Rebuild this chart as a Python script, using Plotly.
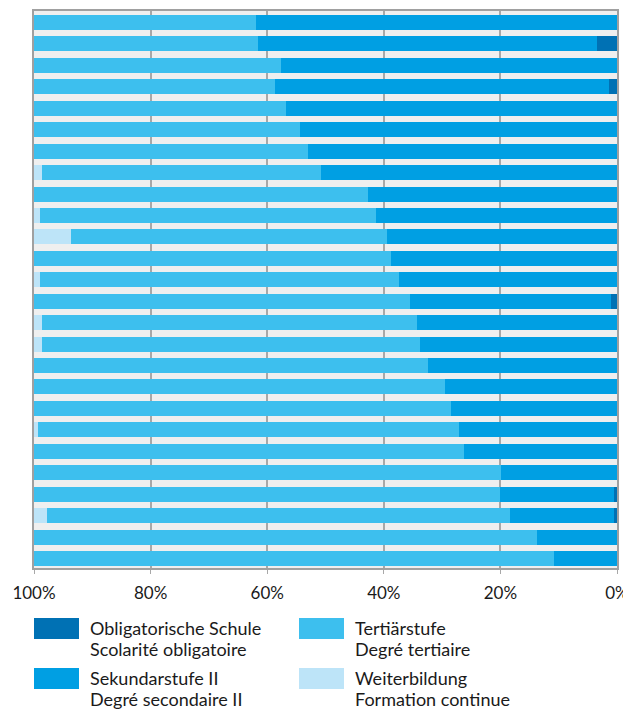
import plotly.graph_objects as go

# ---- data (percent shares per bar, top to bottom) ----
bars = list(range(1, 27))
oblig = [0, 3.4, 0, 1.4, 0, 0, 0, 0, 0, 0, 0, 0, 0, 1.0, 0, 0, 0, 0, 0, 0, 0, 0, 0.5, 0.5, 0, 0]
sek = [61.9, 58.1, 57.6, 57.2, 56.7, 54.3, 53.0, 50.7, 42.7, 41.3, 39.4, 38.7, 37.4,
       34.5, 34.3, 33.8, 32.4, 29.5, 28.4, 27.1, 26.2, 19.9, 19.6, 17.8, 13.7, 10.8]
tert = [38.1, 38.5, 42.4, 41.4, 43.3, 45.7, 47.0, 47.9, 57.3, 57.7, 54.2, 61.3, 61.5,
        64.5, 64.4, 64.9, 67.6, 70.5, 71.6, 72.3, 73.8, 80.1, 79.9, 79.4, 86.3, 89.2]
weiter = [0, 0, 0, 0, 0, 0, 0, 1.4, 0, 1.0, 6.4, 0, 1.1, 0, 1.3, 1.3, 0, 0, 0, 0.6, 0, 0, 0, 2.3, 0, 0]

series_names = [
    ("Obligatorische Schule", "Scolarité obligatoire"),
    ("Sekundarstufe II", "Degré secondaire II"),
    ("Tertiärstufe", "Degré tertiaire"),
    ("Weiterbildung", "Formation continue"),
]
series_values = [oblig, sek, tert, weiter]
colors = ["#0071b4", "#009fe3", "#3dbfee", "#bde4f8"]

tick_vals = [100, 80, 60, 40, 20, 0]
tick_text = ["100%", "80%", "60%", "40%", "20%", "0%"]

FONT = "Lato"
TXT = "#1a1a1a"

W, H = 623, 711
L, R, T, B = 34, 6, 11, 143

fig = go.Figure()
for (n1, n2), vals, col in zip(series_names, series_values, colors):
    fig.add_trace(go.Bar(
        y=bars, x=vals, orientation="h", name=n1,
        marker=dict(color=col, line=dict(width=0)),
        showlegend=False, hoverinfo="x+name",
    ))

# legend drawn manually (big rectangular swatches, two-line labels)
pw = W - L - R
ph = H - T - B


def px(x):
    return (x - L) / pw


def py(y):
    return (H - B - y) / ph


shapes = []
annotations = []
legend_pos = [(34, 618), (34, 668), (299, 618), (299, 668)]
for (n1, n2), col, (sx, sy) in zip(series_names, colors, legend_pos):
    shapes.append(dict(type="rect", xref="paper", yref="paper",
                       x0=px(sx), x1=px(sx + 45), y0=py(sy), y1=py(sy + 21),
                       fillcolor=col, line=dict(width=0)))
    for i, txt in enumerate([n1, n2]):
        annotations.append(dict(text=txt, xref="paper", yref="paper",
                                x=px(sx + 55), y=py(sy + 10 + 21 * i),
                                xanchor="left", yanchor="middle", showarrow=False,
                                borderpad=0,
                                font=dict(family=FONT, size=18, color=TXT)))

fig.update_layout(
    width=W, height=H,
    margin=dict(l=L, r=R, t=T, b=B, pad=0, autoexpand=False),
    paper_bgcolor="white", plot_bgcolor="#efefef",
    barmode="stack", bargap=0.3,
    showlegend=False,
    shapes=shapes, annotations=annotations,
    font=dict(family=FONT, color=TXT),
)
fig.update_xaxes(
    range=[100, 0], tickvals=tick_vals, ticktext=tick_text,
    showgrid=True, gridcolor="#a8a8a8", gridwidth=2,
    showline=True, linecolor="#a0a0a0", linewidth=2, mirror=True,
    ticks="outside", ticklen=4, tickcolor="#a8a8a8", tickwidth=1,
    tickfont=dict(family=FONT, size=17, color=TXT),
    ticklabelstandoff=5, ticklabeloverflow="allow", zeroline=False,
    automargin=False,
)
fig.update_yaxes(
    range=[26.443, 0.464], showticklabels=False, showgrid=False,
    showline=True, linecolor="#a0a0a0", linewidth=2, mirror=True,
    ticks="", zeroline=False, automargin=False,
)

fig.write_html("out.html")
